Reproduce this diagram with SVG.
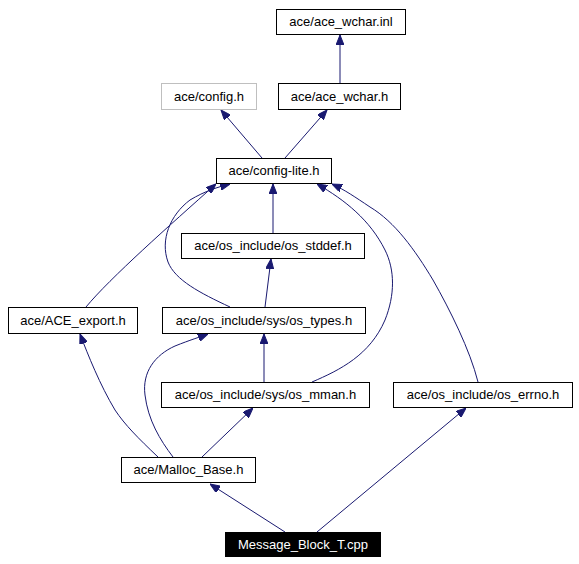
<svg xmlns="http://www.w3.org/2000/svg" width="579" height="564" viewBox="0 0 579 564">
<style>
.n rect{fill:#fff;stroke:#000;stroke-width:1}
.n text{font-family:"Liberation Sans",Arial,sans-serif;font-size:13px;text-anchor:middle;fill:#000}
.g rect{stroke:#bfbfbf}
.r rect{fill:#000}
.r text{fill:#fff}
.e path{fill:none;stroke:#191970;stroke-width:1;marker-end:url(#a)}
</style>
<defs>
<marker id="a" viewBox="0 0 10 8" refX="10" refY="4" markerWidth="10" markerHeight="8" markerUnits="userSpaceOnUse" orient="auto">
<path d="M0,0 L10,4 L0,8 z" fill="#191970" stroke="#191970"/>
</marker>
</defs>
<rect width="579" height="564" fill="#fff"/>
<g id="edges" class="e">
<path d="M340,83 L340,35"/>
<path d="M262,158 L221,110"/>
<path d="M285,158 L327,110"/>
<path d="M273,233 L273,184"/>
<path d="M265,307 L271,259"/>
<path d="M86,307 C110,278 170,225 216,184"/>
<path d="M230,307 C200,293 175,280 168,262 C160,240 170,215 190,200 C205,191 218,187 230,184"/>
<path d="M312,382 C340,370 370,355 385,320 C395,295 395,270 385,250 C370,220 345,200 317,184"/>
<path d="M478,382 C470,350 450,310 433,280 C415,250 395,222 370,207 C355,197 345,190 332,184"/>
<path d="M264,382 L264,334"/>
<path d="M158,457 C138,438 125,425 115,410 C100,385 88,355 80,334"/>
<path d="M173,457 C160,440 148,420 145,395 C142,372 155,355 175,346 C190,340 200,337 208,334"/>
<path d="M202,457 L253,408"/>
<path d="M285,532 L210,484"/>
<path d="M317,532 L466,408"/>
</g>
<g id="ace_wchar_inl" class="n"><rect x="276.5" y="9.5" width="129" height="25"/><text x="341" y="26">ace/ace_wchar.inl</text></g>
<g id="config_h" class="n g"><rect x="161.5" y="83.5" width="95" height="26"/><text x="209" y="101">ace/config.h</text></g>
<g id="ace_wchar_h" class="n"><rect x="278.5" y="83.5" width="122" height="26"/><text x="339.5" y="101">ace/ace_wchar.h</text></g>
<g id="config_lite_h" class="n"><rect x="216.5" y="158.5" width="115" height="25"/><text x="274" y="175">ace/config-lite.h</text></g>
<g id="os_stddef_h" class="n"><rect x="181.5" y="233.5" width="183" height="25"/><text x="273" y="250">ace/os_include/os_stddef.h</text></g>
<g id="ACE_export_h" class="n"><rect x="8.5" y="307.5" width="129" height="26"/><text x="73" y="325">ace/ACE_export.h</text></g>
<g id="os_types_h" class="n"><rect x="162.5" y="307.5" width="203" height="26"/><text x="264" y="325">ace/os_include/sys/os_types.h</text></g>
<g id="os_mman_h" class="n"><rect x="161.5" y="382.5" width="208" height="25"/><text x="265.5" y="399">ace/os_include/sys/os_mman.h</text></g>
<g id="os_errno_h" class="n"><rect x="393.5" y="382.5" width="179" height="25"/><text x="483" y="399">ace/os_include/os_errno.h</text></g>
<g id="Malloc_Base_h" class="n"><rect x="121.5" y="457.5" width="134" height="25"/><text x="188.5" y="474">ace/Malloc_Base.h</text></g>
<g id="Message_Block_T_cpp" class="n r"><rect x="225.5" y="532.5" width="155" height="24"/><text x="303" y="549">Message_Block_T.cpp</text></g>
</svg>
